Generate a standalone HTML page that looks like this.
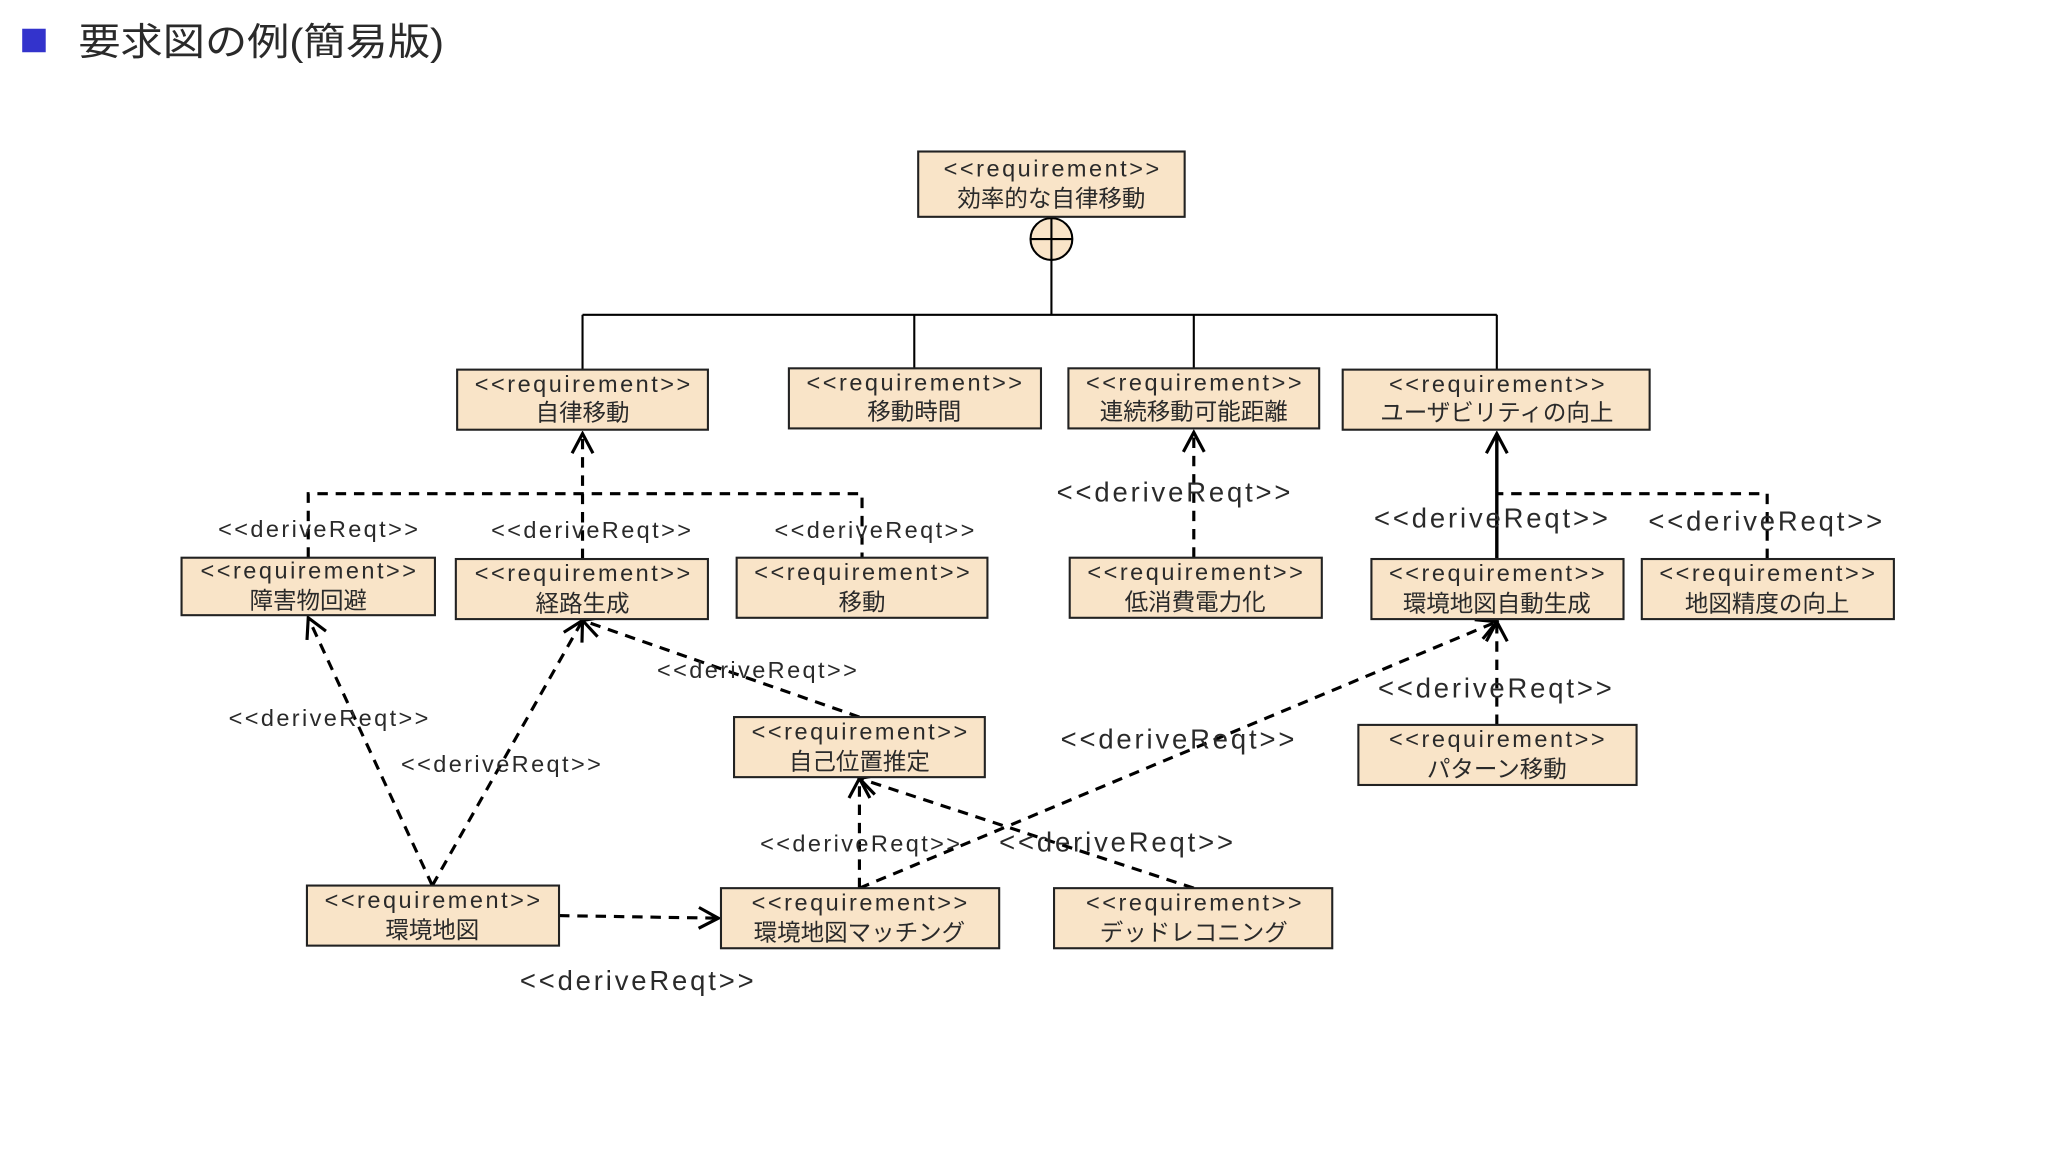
<!DOCTYPE html>
<html><head><meta charset="utf-8"><style>
html,body{margin:0;padding:0;background:#fff;}
svg{display:block}
text{font-family:"Liberation Sans","Noto Sans CJK JP",sans-serif;fill:#2a2a2a}
</style></head><body>
<svg width="2048" height="1152" viewBox="0 0 1568 882" xmlns="http://www.w3.org/2000/svg">
<defs>
<marker id="a" viewBox="0 0 20 20" refX="18" refY="10" markerWidth="20" markerHeight="20" markerUnits="userSpaceOnUse" orient="auto"><path d="M3,2 L18,10 L3,18" fill="none" stroke="#000" stroke-width="2.4"/></marker>
</defs>
<rect x="17" y="22" width="18" height="18" fill="#3333cc"/>
<text x="60" y="42" font-size="29" textLength="280" lengthAdjust="spacingAndGlyphs">要求図の例(簡易版)</text>

<g fill="none" stroke="#000" stroke-width="1.6">
<path d="M805,199 V241 M446,241 H1146 M446,241 V283 M700,241 V282 M914,241 V282 M1146,241 V283"/>
<circle cx="805" cy="183" r="16" fill="#f9e4c8"/>
<path d="M789,183 H821 M805,167 V199"/>
</g>

<g fill="none" stroke="#000" stroke-width="2.4" stroke-dasharray="8,6">
<path d="M236,427 V378 H660 V427"/>
<path d="M446,428 V332" marker-end="url(#a)"/>
<path d="M914,427 V331" marker-end="url(#a)"/>
<path d="M1353,428 V378 H1146"/>
<path d="M1146,555 V476" marker-end="url(#a)"/>
<path d="M331,678 L236,473" marker-end="url(#a)"/>
<path d="M331,678 L446,475" marker-end="url(#a)"/>
<path d="M428,701 L550,703" marker-end="url(#a)"/>
<path d="M658,549 L446,475" marker-end="url(#a)"/>
<path d="M658,680 V596" marker-end="url(#a)"/>
<path d="M658,680 L1146,476" marker-end="url(#a)"/>
<path d="M914,680 L658,596" marker-end="url(#a)"/>
</g>
<path d="M1146,428 V332" fill="none" stroke="#000" stroke-width="2.6" marker-end="url(#a)"/>

<g fill="#f9e4c8" stroke="#222" stroke-width="1.6">
<rect x="703" y="116" width="204" height="50"/>
<rect x="350" y="283" width="192" height="46"/>
<rect x="604" y="282" width="193" height="46"/>
<rect x="818" y="282" width="192" height="46"/>
<rect x="1028" y="283" width="235" height="46"/>
<rect x="139" y="427" width="194" height="44"/>
<rect x="349" y="428" width="193" height="46"/>
<rect x="564" y="427" width="192" height="46"/>
<rect x="819" y="427" width="193" height="46"/>
<rect x="1050" y="428" width="193" height="46"/>
<rect x="1257" y="428" width="193" height="46"/>
<rect x="562" y="549" width="192" height="46"/>
<rect x="1040" y="555" width="213" height="46"/>
<rect x="235" y="678" width="193" height="46"/>
<rect x="552" y="680" width="213" height="46"/>
<rect x="807" y="680" width="213" height="46"/>
</g>

<g font-size="18" text-anchor="middle">
<text x="805" y="135" textLength="165">&lt;&lt;requirement&gt;&gt;</text><text x="805" y="158">効率的な自律移動</text>
<text x="446" y="300" textLength="165">&lt;&lt;requirement&gt;&gt;</text><text x="446" y="322">自律移動</text>
<text x="700" y="299" textLength="165">&lt;&lt;requirement&gt;&gt;</text><text x="700" y="321">移動時間</text>
<text x="914" y="299" textLength="165">&lt;&lt;requirement&gt;&gt;</text><text x="914" y="321">連続移動可能距離</text>
<text x="1146" y="300" textLength="165">&lt;&lt;requirement&gt;&gt;</text><text x="1146" y="322">ユーザビリティの向上</text>
<text x="236" y="443" textLength="165">&lt;&lt;requirement&gt;&gt;</text><text x="236" y="466">障害物回避</text>
<text x="446" y="445" textLength="165">&lt;&lt;requirement&gt;&gt;</text><text x="446" y="468">経路生成</text>
<text x="660" y="444" textLength="165">&lt;&lt;requirement&gt;&gt;</text><text x="660" y="467">移動</text>
<text x="915" y="444" textLength="165">&lt;&lt;requirement&gt;&gt;</text><text x="915" y="467">低消費電力化</text>
<text x="1146" y="445" textLength="165">&lt;&lt;requirement&gt;&gt;</text><text x="1146" y="468">環境地図自動生成</text>
<text x="1353" y="445" textLength="165">&lt;&lt;requirement&gt;&gt;</text><text x="1353" y="468">地図精度の向上</text>
<text x="658" y="566" textLength="165">&lt;&lt;requirement&gt;&gt;</text><text x="658" y="589">自己位置推定</text>
<text x="1146" y="572" textLength="165">&lt;&lt;requirement&gt;&gt;</text><text x="1146" y="595">パターン移動</text>
<text x="331" y="695" textLength="165">&lt;&lt;requirement&gt;&gt;</text><text x="331" y="718">環境地図</text>
<text x="658" y="697" textLength="165">&lt;&lt;requirement&gt;&gt;</text><text x="658" y="720">環境地図マッチング</text>
<text x="914" y="697" textLength="165">&lt;&lt;requirement&gt;&gt;</text><text x="914" y="720">デッドレコニング</text>
</g>

<g font-size="18">
<text x="167" y="411" textLength="153">&lt;&lt;deriveReqt&gt;&gt;</text>
<text x="376" y="412" textLength="153">&lt;&lt;deriveReqt&gt;&gt;</text>
<text x="593" y="412" textLength="153">&lt;&lt;deriveReqt&gt;&gt;</text>
<text x="503" y="519" textLength="153">&lt;&lt;deriveReqt&gt;&gt;</text>
<text x="175" y="556" textLength="153">&lt;&lt;deriveReqt&gt;&gt;</text>
<text x="307" y="591" textLength="153">&lt;&lt;deriveReqt&gt;&gt;</text>
<text x="582" y="652" textLength="153">&lt;&lt;deriveReqt&gt;&gt;</text>
</g>
<g font-size="21">
<text x="809" y="384" textLength="179">&lt;&lt;deriveReqt&gt;&gt;</text>
<text x="1052" y="404" textLength="179">&lt;&lt;deriveReqt&gt;&gt;</text>
<text x="1262" y="406" textLength="179">&lt;&lt;deriveReqt&gt;&gt;</text>
<text x="1055" y="534" textLength="179">&lt;&lt;deriveReqt&gt;&gt;</text>
<text x="812" y="573" textLength="179">&lt;&lt;deriveReqt&gt;&gt;</text>
<text x="765" y="652" textLength="179">&lt;&lt;deriveReqt&gt;&gt;</text>
<text x="398" y="758" textLength="179">&lt;&lt;deriveReqt&gt;&gt;</text>
</g>
</svg>
</body></html>
